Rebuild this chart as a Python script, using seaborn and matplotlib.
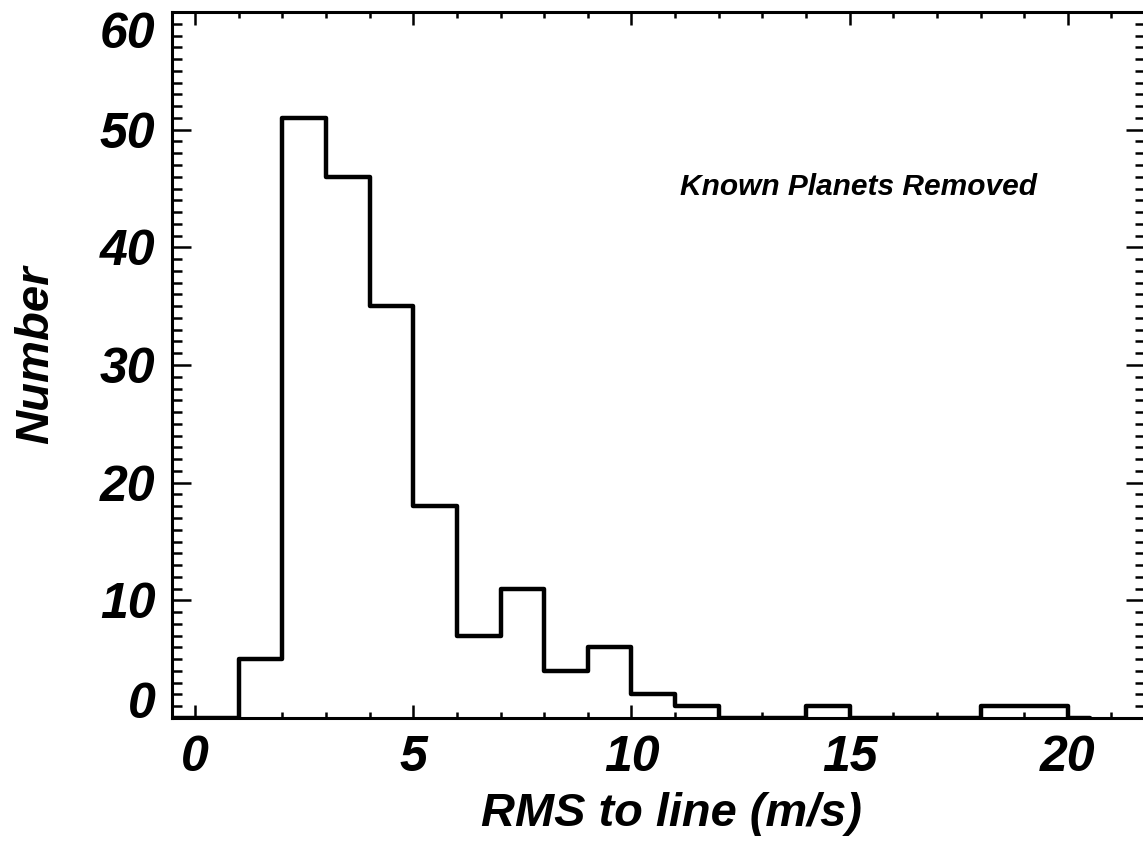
import matplotlib
matplotlib.use("Agg")
import matplotlib.pyplot as plt
from matplotlib.ticker import MultipleLocator
import numpy as np
import seaborn as sns

# Histogram of RMS scatter (m/s), bins one unit wide plus half-bin padding at the ends
bin_edges = [-0.5] + list(range(0, 21)) + [20.5]
counts = [0,
          0, 5, 51, 46, 35, 18, 7, 11, 4, 6,
          2, 1, 0, 0, 1, 0, 0, 0, 1, 1,
          0]
x_ticks = [0, 5, 10, 15, 20]
y_ticks = [0, 10, 20, 30, 40, 50, 60]

sns.set_theme(style="ticks")
fam = ["Liberation Sans Narrow", "Liberation Sans", "DejaVu Sans"]
plt.rcParams["font.family"] = fam
plt.rcParams["font.weight"] = "bold"
plt.rcParams["font.style"] = "italic"
for key in ("text.color", "axes.labelcolor", "xtick.color", "ytick.color", "axes.edgecolor"):
    plt.rcParams[key] = "black"

W, H = 1143, 864
fig = plt.figure(figsize=(W / 100, H / 100), dpi=100)
left, right, bottom, top = 172, 1145, 718, 12
ax = fig.add_axes([left / W, 1 - bottom / H, (right - left) / W, (bottom - top) / H])

centers = [(a + b) / 2 for a, b in zip(bin_edges[:-1], bin_edges[1:])]
sns.histplot(x=centers, weights=counts, bins=bin_edges, element="step",
             fill=False, color="black", linewidth=3.2, ax=ax)

ax.set_xlim(-0.53, 21.77)
ax.set_ylim(0, 60)
ax.set_xticks(x_ticks)
ax.set_yticks(y_ticks)
ax.xaxis.set_minor_locator(MultipleLocator(1))
ax.yaxis.set_minor_locator(MultipleLocator(1))

for s in ax.spines.values():
    s.set_linewidth(2.2)
    s.set_color("black")
    s.set_visible(True)

ax.tick_params(axis="both", which="both", direction="in", top=True, right=True,
               color="black", width=1.8)
ax.tick_params(axis="x", which="major", length=9.5, pad=12, labelsize=36)
ax.tick_params(axis="x", which="minor", length=4.5)
ax.tick_params(axis="y", which="major", length=14, pad=12, labelsize=36)
ax.tick_params(axis="y", which="minor", length=7)

# keep the end labels of the y axis inside the frame
ylabels = ax.get_yticklabels()
ylabels[0].set_verticalalignment("baseline")
ylabels[-1].set_verticalalignment("top")

ax.set_xlabel("RMS to line (m/s)", fontsize=33.8, fontweight="bold", fontstyle="italic")
ax.set_ylabel("Number", fontsize=34, fontweight="bold", fontstyle="italic")
ax.xaxis.set_label_coords(0.513, -0.105)
ax.yaxis.set_label_coords(-0.117, 0.515)

ax.text(0.706, 0.752, "Known Planets Removed", transform=ax.transAxes,
        ha="center", va="center", fontsize=21.5, fontweight="bold", fontstyle="italic")

fig.savefig("out.png", dpi=100)
